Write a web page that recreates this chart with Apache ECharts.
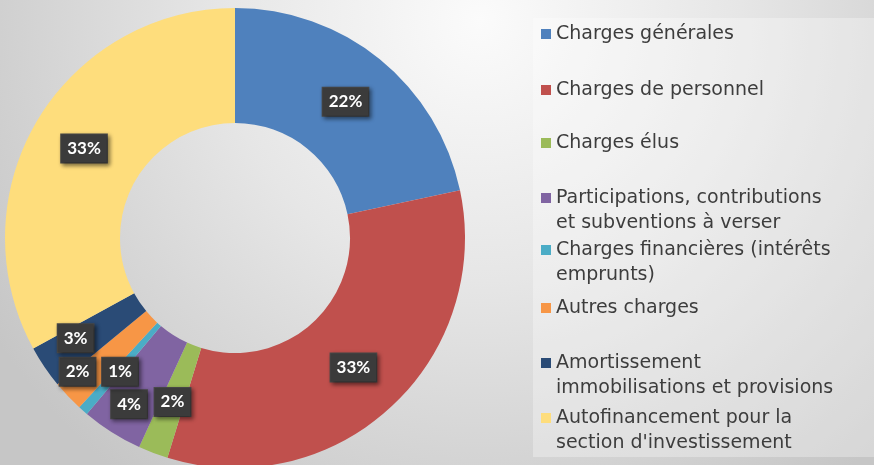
<!DOCTYPE html>
<html>
<head>
<meta charset="utf-8">
<style>
    html, body { margin: 0; padding: 0; }
    #main { width: 874px; height: 465px; }
</style>
</head>
<body>
<div id="main"></div>
<script src="https://cdn.jsdelivr.net/npm/echarts@6/dist/echarts.min.js"></script>
<script>
    // categories and values (percent of total)
    var names = [
        'Charges générales',
        'Charges de personnel',
        'Charges élus',
        'Participations, contributions\net subventions à verser',
        'Charges financières (intérêts\nemprunts)',
        'Autres charges',
        'Amortissement\nimmobilisations et provisions',
        'Autofinancement pour la\nsection d\'investissement'
    ];
    var values = [21.7, 33.1, 2.1, 4.3, 0.7, 2.2, 3.0, 33.0];
    var colors = ['#4f81bd', '#c0504d', '#9bbb59', '#8064a2', '#4bacc6', '#f79646', '#2a4b76', '#fedd7c'];

    // layout: centre line of each legend row, label nudges for the small slices
    var legendRowY = [34, 90, 143, 198, 250, 308, 363, 418];
    var labelNudge = { 3: [-12, 18], 4: [1, 2], 5: [-30, 13], 6: [-14, 2] };

    var myChart = echarts.init(document.getElementById('main'));

    var legends = names.map(function (n, i) {
        var twoLines = n.indexOf('\n') >= 0;
        return {
            left: 541,
            top: legendRowY[i] - (twoLines ? 37.5 : 12.5),
            padding: 0,
            orient: 'vertical',
            icon: 'rect',
            itemWidth: 10,
            itemHeight: 10,
            selectedMode: false,
            data: [n],
            // a blank first line keeps the square level with the first text line
            formatter: function (name) {
                return name.indexOf('\n') >= 0 ? '\n' + name : name;
            },
            textStyle: {
                fontFamily: 'DejaVu Sans',
                fontSize: 19,
                color: '#3d3d3d',
                lineHeight: 25
            }
        };
    });

    var option = {
        backgroundColor: {
            type: 'radial', x: 480, y: 20, r: 580, global: true,
            colorStops: [
                { offset: 0, color: '#fbfbfb' },
                { offset: 0.45, color: '#e6e6e6' },
                { offset: 1, color: '#c6c6c6' }
            ]
        },
        color: colors,
        graphic: [
            {
                type: 'rect', z: -1,
                shape: { x: 533, y: 18, width: 341, height: 439 },
                style: { fill: 'rgba(255,255,255,0.3)' }
            }
        ],
        legend: legends,
        series: [
            {
                type: 'pie',
                center: [235, 238],
                radius: [115, 230],
                startAngle: 90,
                avoidLabelOverlap: false,
                label: {
                    show: true,
                    position: 'inside',
                    formatter: function (p) { return Math.round(p.percent) + '%'; },
                    fontFamily: 'Lato',
                    fontWeight: 'bold',
                    fontSize: 17,
                    color: '#ffffff',
                    backgroundColor: '#3b3b3b',
                    borderColor: '#4a4a4a',
                    borderWidth: 1,
                    padding: [6, 6, 5, 6],
                    shadowBlur: 4,
                    shadowColor: 'rgba(0,0,0,0.45)',
                    shadowOffsetX: 2,
                    shadowOffsetY: 2
                },
                labelLayout: function (params) {
                    var d = labelNudge[params.dataIndex];
                    return d ? { dx: d[0], dy: d[1] } : {};
                },
                labelLine: { show: false },
                emphasis: { disabled: true },
                data: names.map(function (n, i) {
                    return { name: n, value: values[i] };
                })
            }
        ]
    };

    myChart.setOption(option);
</script>
</body>
</html>
